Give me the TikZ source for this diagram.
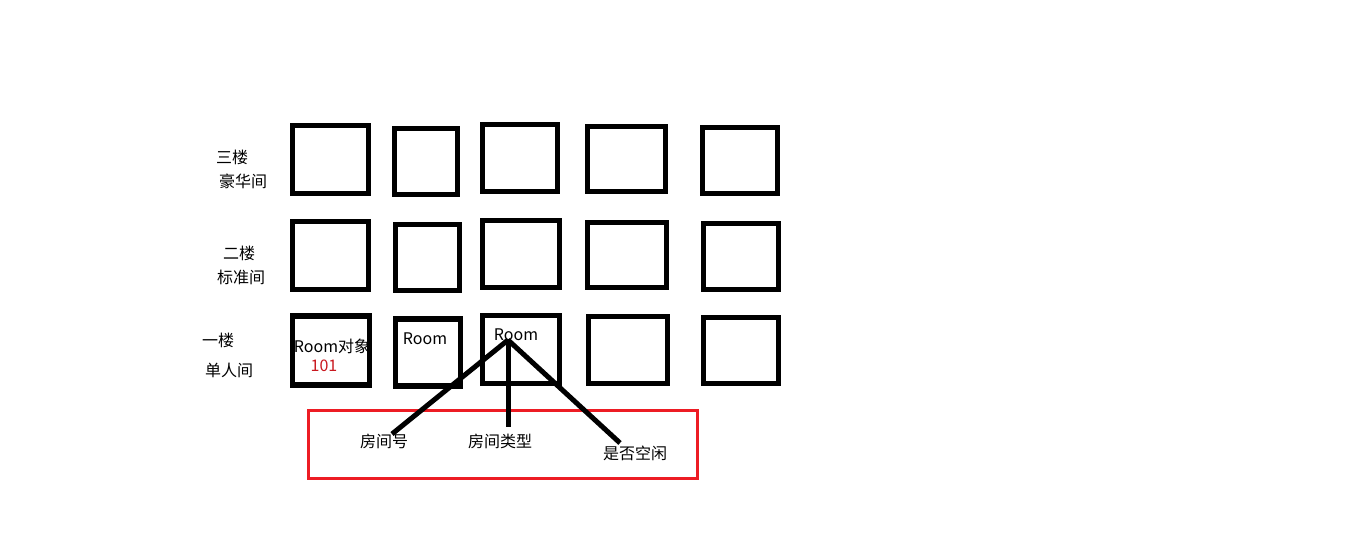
\documentclass[tikz,border=0pt]{standalone}
\usepackage{fontspec}
\newfontfamily\cjk{Noto Sans CJK SC}
\usetikzlibrary{positioning}
\definecolor{boxred}{RGB}{237,28,36}

\begin{document}
\begin{tikzpicture}[x=1pt,y=-1pt,
    room/.style = {draw, line width = 5.5pt, inner sep = 0pt},
    label/.style = {font = \cjk\fontsize{16}{19}\selectfont, inner sep = 0pt},
    link/.style = {line width = 5pt}]
    \useasboundingbox (0,0) rectangle (1359,549);
    \fill[white] (0,0) rectangle (1359,549);
    \foreach \n/\x/\y/\w/\h in {
        3a/330.5/159.5/76/68, 3b/426/161.5/63/66, 3c/520/158/75/67, 3d/626.5/159/78/65, 3e/740/160.5/75/66,
        2a/330.5/255.5/76/68, 2b/427.5/257.5/64/66, 2c/521/254/77/67, 2d/627/255/79/65, 2e/741/256.5/75/66,
        1a/331/350.5/77/69, 1b/428/352.5/65/67, 1c/521/349.5/77/68, 1d/628/350/79/67, 1e/741/350.5/75/66}
        \node[room, minimum width = \w pt, minimum height = \h pt] (r\n) at (\x,\y) {};
    \node[label] (f3) at (232,157) {三楼};
    \node[label] (t3) at (243,181) {豪华间};
    \node[label] (f2) at (239,253) {二楼};
    \node[label] (t2) at (241,277) {标准间};
    \node[label] (f1) at (218,340) {一楼};
    \node[label] (t1) at (229,370) {单人间};
    \node[label] (obj) at (332,346) {Room对象};
    \node[label, text = boxred!85!black] (num) at (324,366) {101};
    \node[label] (roomb) at (425,339) {Room};
    \node[label] (roomc) at (516,335) {Room};
    \draw[boxred, line width = 3pt] (308.5,410.5) rectangle (697.5,478.5);
    \node[label] (no) at (384,441) {房间号};
    \node[label] (kind) at (500,441) {房间类型};
    \node[label] (free) at (635,453) {是否空闲};
    \coordinate (hub) at (508,340);
    \coordinate (noend) at (392,434);
    \coordinate (kindend) at (508,427);
    \coordinate (freeend) at (620,443);
    \draw[link] (hub) -- (noend);
    \draw[link] (hub) -- (kindend);
    \draw[link] (hub) -- (freeend);
\end{tikzpicture}
\end{document}
